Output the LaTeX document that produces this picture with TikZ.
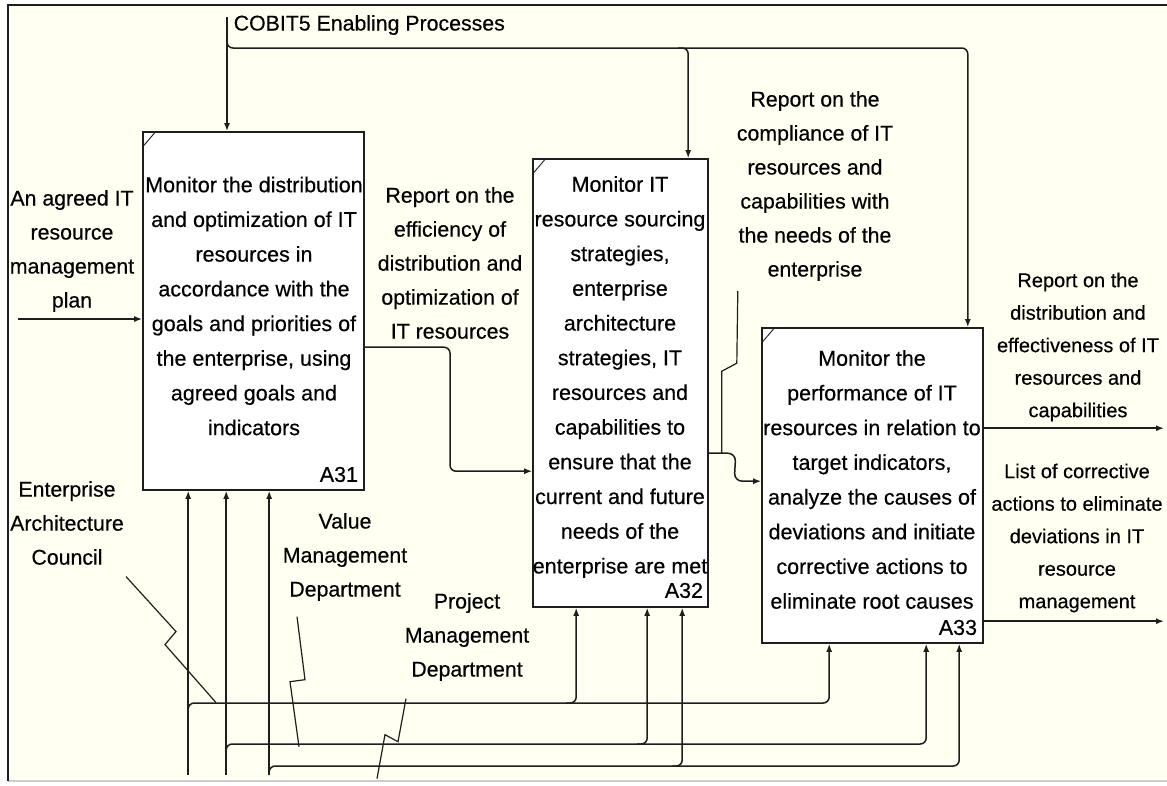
\documentclass[tikz,border=0pt]{standalone}
\usepackage{fontspec}
\setmainfont{Liberation Sans}[FakeBold=0.4]
\usetikzlibrary{arrows.meta,calc}
\definecolor{sheet}{RGB}{255,255,242}
\definecolor{ink}{RGB}{30,30,30}

\begin{document}
\begin{tikzpicture}[x=1pt, y=-1pt, line width=1.5pt, draw=ink,
  >={Latex[length=8pt,width=6pt]},
  box/.style={draw, fill=white, line width=1.6pt, inner sep=0pt},
  txt/.style={align=center, inner sep=0pt, font=\fontsize{21.5}{34.7}\selectfont},
  lbl/.style={align=center, inner sep=0pt, font=\fontsize{21.3}{34}\selectfont},
  lbltight/.style={lbl, font=\fontsize{20}{32.5}\selectfont},
  num/.style={anchor=south east, inner sep=0pt, font=\fontsize{21.5}{26}\selectfont},
  wire/.style={rounded corners=6pt},
  tick/.style={line width=0.9pt}]
  \useasboundingbox (0,0) rectangle (1167,785);
  \fill[white] (0,0) rectangle (1167,785);
  \fill[sheet] (8,5) rectangle (1167,781);
  \draw[gray!40] (8,781) -- (1167,781);
  \draw[line width=1.8pt] (8,781) -- (8,5) -- (1167,5);

  % activity boxes
  \node[box, minimum width=221pt, minimum height=358pt] (a31) at (253.5,311) {};
  \node[box, minimum width=175pt, minimum height=448pt] (a32) at (620.5,383) {};
  \node[box, minimum width=221pt, minimum height=315pt] (a33) at (872.5,485.5) {};
  \draw[tick] ($(a31.north west)+(1,15)$) -- ++(12,-14);
  \draw[tick] ($(a32.north west)+(1,15)$) -- ++(12,-14);
  \draw[tick] ($(a33.north west)+(1,15)$) -- ++(12,-14);

  \node[txt] (a31t) at (254,306) {Monitor the distribution\\and optimization of IT\\resources in\\accordance with the\\goals and priorities of\\the enterprise, using\\agreed goals and\\indicators};
  \node[txt] (a32t) at (620,377) {Monitor IT\\resource sourcing\\strategies,\\enterprise\\architecture\\strategies, IT\\resources and\\capabilities to\\ensure that the\\current and future\\needs of the\\enterprise are met};
  \node[txt] (a33t) at (872,479.5) {Monitor the\\performance of IT\\resources in relation to\\target indicators,\\analyze the causes of\\deviations and initiate\\corrective actions to\\eliminate root causes};
  \node[num] at ($(a31.south east)+(-6,-8)$) {A31};
  \node[num] at ($(a32.south east)+(-5,-9)$) {A32};
  \node[num] at ($(a33.south east)+(-6,-8)$) {A33};

  % arrow labels
  \node[lbl, anchor=west] (cobit) at (233,25) {COBIT5 Enabling Processes};
  \node[lbl] (plan) at (72,251) {An agreed IT\\resource\\management\\plan};
  \node[lbl] (eff) at (450,263) {Report on the\\efficiency of\\distribution and\\optimization of\\IT resources};
  \node[lbl] (compl) at (815,186) {Report on the\\compliance of IT\\resources and\\capabilities with\\the needs of the\\enterprise};
  \node[lbltight] (distr) at (1078,347) {Report on the\\distribution and\\effectiveness of IT\\resources and\\capabilities};
  \node[lbltight] (corr) at (1077,538) {List of corrective\\actions to eliminate\\deviations in IT\\resource\\management};
  \node[lbl] (eac) at (67,523) {Enterprise\\Architecture\\Council};
  \node[lbl] (vmd) at (345,557) {Value\\Management\\Department};
  \node[lbl] (pmd) at (467,637) {Project\\Management\\Department};

  % entry and exit points
  \coordinate (inA) at (18,319);
  \coordinate (cobtop) at (227,17);
  \coordinate (cobbus) at (227,48);
  \coordinate (c32) at ($(a32.north west)+(156,0)$);
  \coordinate (c33) at ($(a33.north east)+(-16,0)$);
  \coordinate (o31) at ($(a31.north east)+(0,216)$);
  \coordinate (i32) at ($(a32.north west)+(0,313)$);
  \coordinate (o32) at ($(a32.north east)+(0,295)$);
  \coordinate (i33) at ($(a33.north west)+(0,154)$);
  \coordinate (o33a) at ($(a33.north east)+(0,101)$);
  \coordinate (o33b) at ($(a33.north east)+(0,294)$);
  \coordinate (rim) at (1164,0);
  \coordinate (bot) at (0,775);
  \coordinate (bus1) at (0,703);
  \coordinate (bus2) at (0,744);
  \coordinate (bus3) at (0,766);
  \path (a31.south west) ++(46,0) coordinate (m31a) ++(38,0) coordinate (m31b) ++(43,0) coordinate (m31c);
  \path (a32.south west) ++(44,0) coordinate (m32a) ++(71,0) coordinate (m32b) ++(35,0) coordinate (m32c);
  \path (a33.south west) ++(68,0) coordinate (m33a) ++(97,0) coordinate (m33b) ++(33,0) coordinate (m33c);

  % inputs and controls
  \draw[->] (inA) -- (inA -| a31.west);
  \draw[->] (cobtop) -- (cobtop |- a31.north);
  \draw[->, wire] ($(cobbus)+(0,-10)$) -- (cobbus) -- (cobbus -| c33) -- (c33);
  \draw[->, wire] ($(cobbus -| c32)+(-10,0)$) -- (cobbus -| c32) -- (c32);

  % outputs
  \draw[->, wire] (o31) -- (o31 -| eff) -- (eff |- i32) -- (i32);
  \draw[->, rounded corners=8pt] (o32) -- ($(o32)+(27,0)$) -- ($(o32 -| i33)+(-27,28)$) -- (i33);
  \draw[line width=1.2pt] ($(o32)+(13,0)$) -- ++(0,-82) -- ++(15,-8) -- ++(1,-72);
  \draw[->] (o33a) -- (o33a -| rim);
  \draw[->] (o33b) -- (o33b -| rim);

  % mechanisms
  \draw[->] (m31a |- bot) -- (m31a);
  \draw[->] (m31b |- bot) -- (m31b);
  \draw[->] (m31c |- bot) -- (m31c);
  \draw[->, wire] ($(m31a |- bus1)+(0,9)$) -- (m31a |- bus1) -- (m33a |- bus1) -- (m33a);
  \draw[->, wire] ($(m31b |- bus2)+(0,11)$) -- (m31b |- bus2) -- (m33b |- bus2) -- (m33b);
  \draw[->, wire] ($(m31c |- bus3)+(0,9)$) -- (m31c |- bus3) -- (m33c |- bus3) -- (m33c);
  \draw[->, wire] ($(m32a |- bus1)+(-10,0)$) -- (m32a |- bus1) -- (m32a);
  \draw[->, wire] ($(m32b |- bus2)+(-10,0)$) -- (m32b |- bus2) -- (m32b);
  \draw[->, wire] ($(m32c |- bus3)+(-10,0)$) -- (m32c |- bus3) -- (m32c);

  % label leaders
  \draw[line width=1.2pt] (eac.south) ++(59,11) -- ++(50,55) -- ++(-11,13) -- ++(51,58);
  \draw[line width=1.2pt] (vmd.south) ++(-48,15) -- ++(8,63) -- ++(-15,2) -- ++(9,65);
  \draw[line width=1.2pt] (pmd.south) ++(-61,17) -- ++(-8,43) -- ++(-13,-7) -- ++(-8,44);
\end{tikzpicture}
\end{document}
